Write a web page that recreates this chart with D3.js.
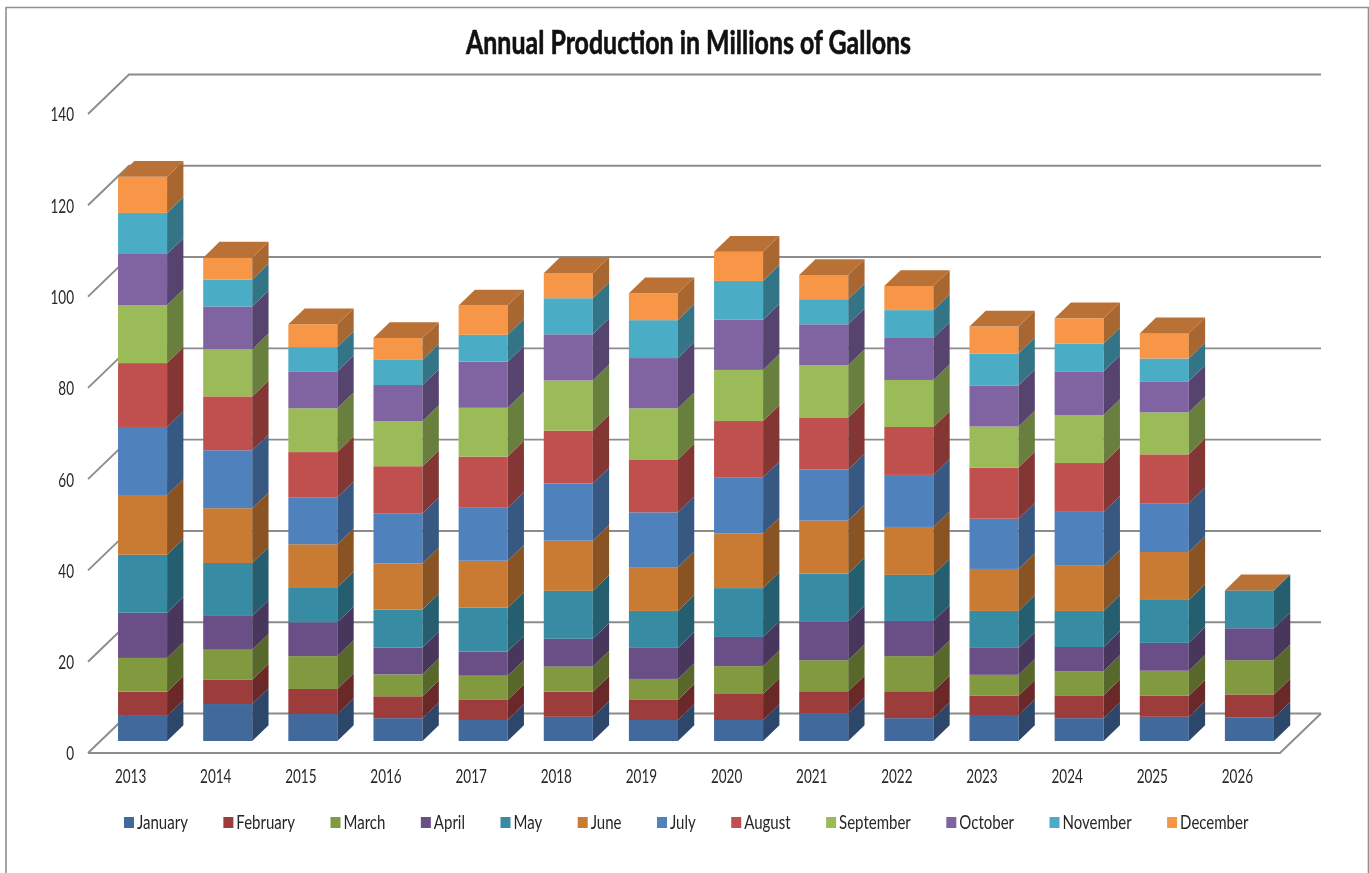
<!DOCTYPE html>
<html>
<head>
<meta charset="utf-8">
<script src="https://cdnjs.cloudflare.com/ajax/libs/d3/7.8.5/d3.min.js"></script>
<style>
html,body{margin:0;padding:0;background:#fff;overflow:hidden}
svg{display:block;filter:blur(0.45px)}
svg text{font-family:Lato,"Open Sans",sans-serif;fill:#262626}
</style>
</head>
<body>
<svg id="c" width="1369" height="873"></svg>
<script>
const years=["2013","2014","2015","2016","2017","2018","2019","2020","2021","2022","2023","2024","2025","2026"];
const months=["January","February","March","April","May","June","July","August","September","October","November","December"];
const colors=["#41699c","#9c3d3b","#81993f","#6a4f87","#378ba3","#c97a33","#4f81bd","#c0504d","#9bbb59","#8064a2","#4bacc6","#f79646"];
const yTicks=[0,20,40,60,80,100,120,140];
const january=[5.5,8.1,5.9,5.0,4.6,5.3,4.6,4.6,6.1,5.0,5.7,5.0,5.3,5.1];
const february=[5.3,5.3,5.5,4.8,4.4,5.5,4.4,5.7,4.8,5.9,4.2,5.0,4.6,5.1];
const march=[7.4,6.6,7.2,4.8,5.3,5.5,4.6,6.1,6.8,7.7,4.6,5.3,5.5,7.5];
const april=[9.9,7.4,7.4,5.9,5.3,6.1,6.8,6.4,8.5,7.7,5.9,5.3,6.1,7.0];
const may=[12.7,11.6,7.7,8.3,9.6,10.5,8.1,10.7,10.5,10.1,8.1,7.9,9.4,8.3];
const june=[13.1,12.0,9.4,10.1,10.3,11.0,9.6,12.0,11.6,10.5,9.2,9.9,10.5,0];
const july=[14.9,12.7,10.3,11.0,11.6,12.5,12.0,12.3,11.2,11.4,11.0,11.8,10.7,0];
const august=[14.0,11.8,9.9,10.3,11.2,11.6,11.6,12.3,11.4,10.5,11.2,10.7,10.7,0];
const september=[12.7,10.3,9.6,9.9,10.7,11.0,11.2,11.2,11.4,10.3,9.0,10.5,9.2,0];
const october=[11.2,9.4,8.1,7.9,10.1,10.1,11.0,11.0,9.0,9.2,9.0,9.6,6.8,0];
const november=[9.0,5.9,5.3,5.5,5.9,7.9,8.3,8.5,5.5,6.1,7.0,6.1,5.0,0];
const december=[7.9,4.8,5.0,4.8,6.4,5.5,5.9,6.4,5.3,5.3,5.9,5.5,5.5,0];
const seriesValues=[january,february,march,april,may,june,july,august,september,october,november,december];

const table=years.map((y,i)=>{const r={year:y};months.forEach((m,k)=>r[m]=seriesValues[k][i]);return r;});
const stacked=d3.stack().keys(months)(table);

const svg=d3.select("#c");
svg.append("path").attr("d","M6,873V7.5H1368.5V873").attr("fill","none").attr("stroke","#8f8f8f").attr("stroke-width",1.6);

const x=d3.scaleBand().domain(years).range([88,1280]).paddingInner(0.424).paddingOuter(0.212);
const y=d3.scaleLinear().domain([0,140]).range([753,114]);
const wallDx=41, wallDy=-39.5;
const barDx=16.3, barDy=-15.8;
const barShiftX=12, barShiftY=-12;
const narrowTick=0.73, narrowLegend=0.79;

const grid=svg.append("g").attr("stroke","#8c8c8c").attr("stroke-width",1.9).attr("fill","none");
yTicks.forEach(t=>{
  grid.append("path").attr("d",`M${x.range()[0]},${y(t)}L${x.range()[0]+wallDx},${y(t)+wallDy}H${x.range()[1]+wallDx}`);
});
grid.append("path").attr("d",`M${x.range()[0]},${y(0)}H${x.range()[1]}L${x.range()[1]+wallDx},${y(0)+wallDy}`);

const dark=(c,f)=>{const r=d3.rgb(c);return d3.rgb(r.r*f,r.g*f,r.b*f).formatHex();};
const bars=svg.append("g");
years.forEach((yr,i)=>{
  const g=bars.append("g");
  const x0=x(yr)+barShiftX, x1=x0+x.bandwidth();
  const py=v=>y(v)+barShiftY;
  stacked.forEach((s,k)=>{
    const [a,b]=s[i];
    if(b-a<=0) return;
    g.append("rect").attr("x",x0).attr("y",py(b)).attr("width",x1-x0).attr("height",py(a)-py(b)).attr("fill",colors[k]);
    g.append("path").attr("d",`M${x1},${py(a)}L${x1+barDx},${py(a)+barDy}V${py(b)+barDy}L${x1},${py(b)}Z`).attr("fill",dark(colors[k],0.68));
  });
  const top=py(stacked[stacked.length-1][i][1]);
  g.append("path").attr("d",`M${x0},${top}L${x0+barDx},${top+barDy}H${x1+barDx}L${x1},${top}Z`).attr("fill",dark(colors[11],0.75));
});

const axisFont=(sel)=>sel.attr("font-size",18.5).attr("font-family",null).attr("fill","#262626").attr("transform",`scale(${narrowTick},1)`);
const yAxis=svg.append("g").attr("transform","translate(74,1)").call(d3.axisLeft(y).tickValues(yTicks).tickSize(0).tickPadding(0));
yAxis.attr("font-family",null).select(".domain").remove();
axisFont(yAxis.selectAll("text"));
const xAxis=svg.append("g").attr("transform","translate(0,778)").call(d3.axisBottom(x).tickSize(0).tickPadding(0));
xAxis.attr("font-family",null).select(".domain").remove();
axisFont(xAxis.selectAll("text").attr("dy",0).attr("y",0).attr("dominant-baseline","middle"));

svg.append("text").attr("x",688.5).attr("y",54).attr("text-anchor","middle").attr("font-size",33).attr("font-weight",700)
  .attr("textLength",445).attr("lengthAdjust","spacingAndGlyphs").style("fill","#111").style("stroke","#111").style("stroke-width",0.6).text("Annual Production in Millions of Gallons");

let lx=124;
const leg=svg.append("g");
months.forEach((m,k)=>{
  leg.append("rect").attr("x",lx).attr("y",817).attr("width",10).attr("height",11).attr("fill",colors[k]);
  const t=leg.append("text").attr("transform",`translate(${lx+13},828.5) scale(${narrowLegend},1)`).attr("font-size",19).text(m);
  lx+=13+t.node().getComputedTextLength()*narrowLegend+35.5;
});
</script>
</body>
</html>
